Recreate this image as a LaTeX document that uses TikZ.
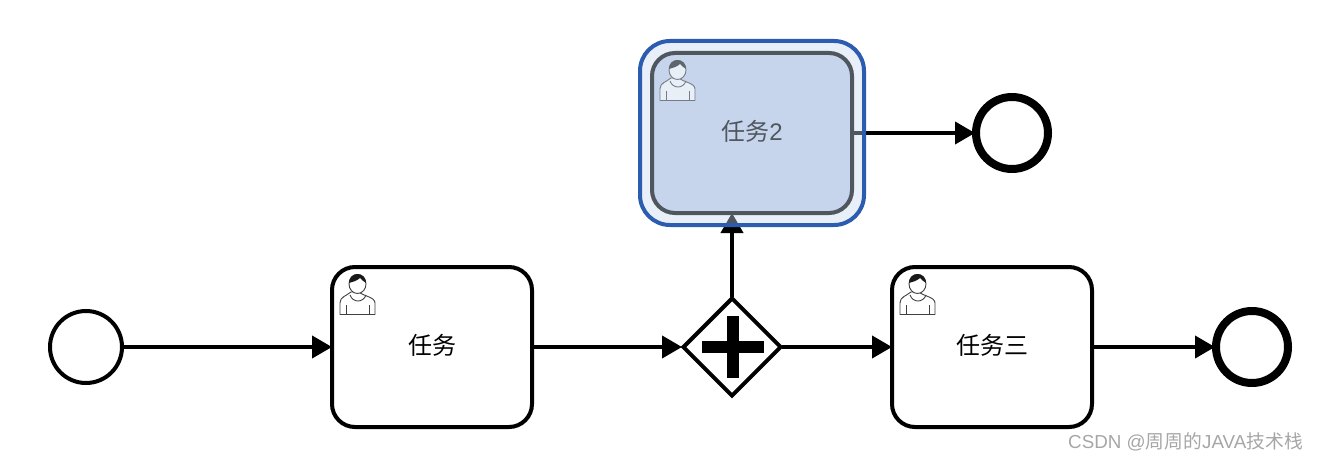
\documentclass[tikz,border=0pt]{standalone}
\usepackage{fontspec}
\setmainfont{Liberation Sans}
\newfontfamily\cjk{Noto Sans CJK SC}
\usetikzlibrary{arrows.meta,shapes.geometric}
\definecolor{selblue}{RGB}{43,92,176}
\definecolor{selfill}{RGB}{200,215,237}
\definecolor{taskfill}{RGB}{197,212,236}
\newcommand{\tasklabel}[1]{\raisebox{2pt}[\height][\depth]{#1}}
\tikzset{
  node-start/.style={draw,circle,minimum size=72pt,inner sep=0pt,line width=4pt},
  node-end/.style={draw,circle,minimum size=72pt,inner sep=0pt,outer sep=1pt,line width=8pt},
  node-gw/.style={draw,diamond,fill=white,minimum size=98pt,inner sep=0pt,outer sep=1pt,line width=4pt},
  node-task/.style={draw,rectangle,rounded corners=23pt,fill=white,minimum width=200pt,minimum height=160pt,inner sep=0pt,outer sep=0pt,line width=4pt,font=\fontsize{24}{28}\selectfont},
  node-sel/.style={draw=selblue,rectangle,rounded corners=30pt,fill=selfill,fill opacity=0.4,minimum width=224pt,minimum height=184pt,inner sep=0pt,outer sep=0pt,line width=4pt},
  % Kantar
  flow/.style={-{Triangle[length=20pt,width=22pt]},line width=4pt},
  % Ikon i oppgaver
  person/.pic={
    \draw[line width=0.9pt,black!75,fill=white,line join=round] (8,47.5) -- (8,36) .. controls (8,30) and (14,29) .. (19,25)
      -- (27,25) .. controls (31,29) and (43,30) .. (43,36) -- (43,47.5) -- cycle;
    \draw[line width=0.9pt,black!75] (14,38) -- (14,47) (37,38) -- (37,47);
    \draw[line width=0.9pt,black!75] (18,28) .. controls (21,36) and (31,36) .. (34,28);
    \draw[line width=0.9pt,black!75,fill=white] (25.5,17) ellipse (8.5pt and 9.5pt);
    \fill[black!90] (17,16) .. controls (17,4) and (34,4) .. (34,16) .. controls (31,15) and (30,12) .. (28,11) .. controls (25,14) and (20,15) .. (17,16) -- cycle;
  },
}
\begin{document}
\begin{tikzpicture}[x=1pt,y=-1pt]
  \useasboundingbox (0,0) rectangle (1318,460);
  \node[node-start] (start) at (86,347) {};
  \node[node-task] (task-a) at (432,347) {\tasklabel{\cjk 任务}};
  \node[node-gw] (gw) at (732,347) {};
  \node[node-task] (task-b) at (992,347) {\tasklabel{\cjk 任务三}};
  \node[node-end] (end-b) at (1252,347) {};
  \node[node-task,fill=taskfill] (task-c) at (752,133) {\tasklabel{{\cjk 任务}2}};
  \node[node-end] (end-c) at (1012,133) {};
  \pic at (task-a.north west) {person};
  \pic at (task-b.north west) {person};
  \pic at (task-c.north west) {person};
  \fill (702,341) rectangle (764,353);
  \fill (727,316) rectangle (739,378);
  \draw[flow] (start) -- (task-a);
  \draw[flow] (task-a) -- (gw);
  \draw[flow] (gw) -- (task-b);
  \draw[flow] (task-b) -- (end-b);
  \draw[flow] (gw.north) -- (gw.north |- task-c.south);
  \draw[flow] (task-c.east) -- (end-c);
  \node[node-sel] (sel) at (752,133) {};
  \node[anchor=base east,text=black!35,font=\fontsize{18.8}{24}\selectfont,inner sep=0pt] (mark) at (1303,448) {CSDN @{\cjk 周周的}JAVA{\cjk 技术栈}};
\end{tikzpicture}
\end{document}
